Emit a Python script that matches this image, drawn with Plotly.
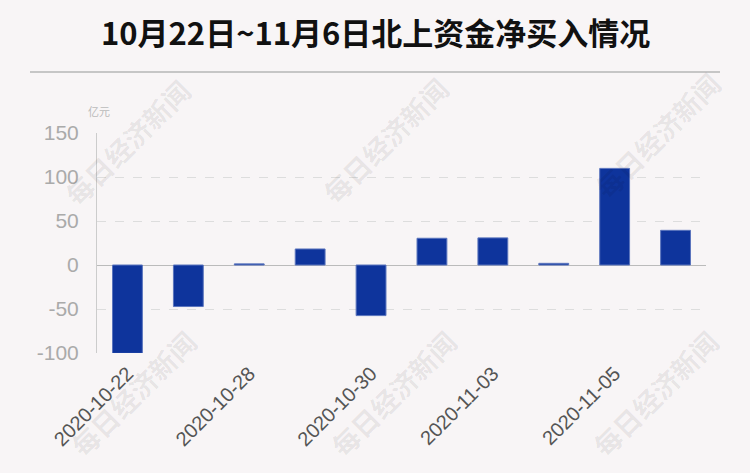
import plotly.graph_objects as go

dates = ["2020-10-22", "2020-10-27", "2020-10-28", "2020-10-29", "2020-10-30",
         "2020-11-02", "2020-11-03", "2020-11-04", "2020-11-05", "2020-11-06"]
values = [-100.4, -47.2, 1.3, 18.2, -57.5, 30.4, 30.8, 1.9, 109.8, 39.4]
tick_dates = ["2020-10-22", "2020-10-28", "2020-10-30", "2020-11-03", "2020-11-05"]
y_ticks = [-100, -50, 0, 50, 100, 150]
y_ticktext = ["-100", "-50", "0", "50", "100", "150"]
title_text = "10月22日~11月6日北上资金净买入情况"
unit_text = "亿元"
watermark = "每日经济新闻"

bg = "#f8f5f6"
L, T, W, H = 97, 133, 609, 220

fig = go.Figure()
fig.add_trace(go.Bar(
    x=dates, y=values,
    marker=dict(color="#0e349c", line=dict(color="#5a74bd", width=1)),
    width=0.49,
))

fig.update_layout(
    width=750, height=473,
    paper_bgcolor=bg, plot_bgcolor=bg,
    margin=dict(l=L, r=750 - L - W, t=T, b=473 - T - H),
    showlegend=False,
    font=dict(family="Liberation Sans, Noto Sans CJK SC, sans-serif"),
    xaxis=dict(
        type="category", automargin=False,
        tickmode="array", tickvals=tick_dates, ticktext=tick_dates,
        tickangle=-45, ticklabelstandoff=4,
        tickfont=dict(size=20, color="#555555"),
        showgrid=False, showline=False, ticks="",
    ),
    yaxis=dict(
        range=[-100, 150], automargin=False,
        tickmode="array", tickvals=y_ticks, ticktext=y_ticktext,
        ticklabelstandoff=13,
        tickfont=dict(size=21, color="#aaaaaa"),
        showgrid=True, gridcolor="#dddddd", griddash="dash", gridwidth=1,
        zeroline=True, zerolinecolor="#bbbbbb", zerolinewidth=1,
        showline=True, linecolor="#cccccc", linewidth=1,
        ticks="", ticklen=0,
    ),
)

def px_x(p):
    return (p - L) / W

def px_y(p):
    return (T + H - p) / H

fig.add_annotation(text="<b>" + title_text + "</b>", xref="paper", yref="paper",
                   x=px_x(375), y=px_y(31), xanchor="center", yanchor="middle",
                   showarrow=False,
                   font=dict(size=31, color="#111111",
                             family="Noto Sans CJK SC, sans-serif"))
fig.add_shape(type="line", xref="paper", yref="paper",
              x0=px_x(30), x1=px_x(720), y0=px_y(72), y1=px_y(72),
              line=dict(color="#c6c6c6", width=2))

fig.add_annotation(text=unit_text, xref="paper", yref="paper",
                   x=px_x(86), y=px_y(111), xanchor="left", yanchor="middle",
                   showarrow=False,
                   font=dict(size=11, color="#bbbbbb",
                             family="Noto Sans CJK SC, sans-serif"))

for (px, py) in [(127, 142), (385, 140), (657, 135), (133, 393), (393, 393), (655, 393)]:
    fig.add_annotation(text="<b>" + watermark + "</b>", xref="paper", yref="paper",
                       x=px_x(px), y=px_y(py),
                       xanchor="center", yanchor="middle",
                       textangle=-45, showarrow=False,
                       font=dict(size=27, color="rgba(0,0,0,0.08)",
                                 family="Noto Sans CJK SC, sans-serif"))

fig.write_html("out.html", config={"displayModeBar": False},
               post_script="document.body.style.margin='0';")
